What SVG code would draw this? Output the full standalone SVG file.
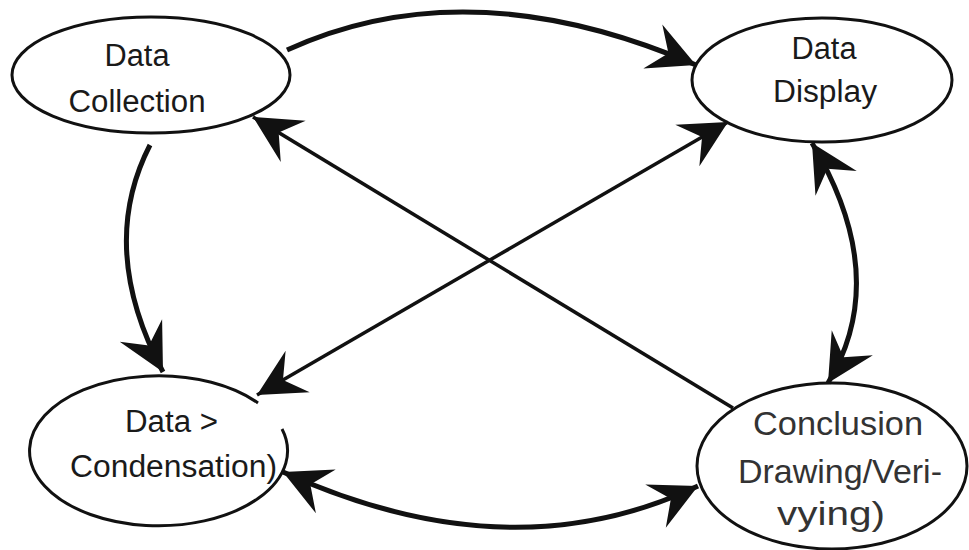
<svg xmlns="http://www.w3.org/2000/svg" width="969" height="550" viewBox="0 0 969 550">
<style>
.node{fill:#fff;stroke:#111;stroke-width:3}
.lbl{font-family:"Liberation Sans",Arial,sans-serif;font-size:31px;fill:#1a1a1a;text-anchor:middle}
.lbl2{font-family:"Liberation Sans",Arial,sans-serif;font-size:34px;fill:#333;text-anchor:middle}
.curve{fill:none;stroke:#111;stroke-width:5}
.straight{fill:none;stroke:#111;stroke-width:3.5}
</style>
<defs>
<marker id="ah" markerUnits="userSpaceOnUse" viewBox="-50 -26 52 52" markerWidth="52" markerHeight="52" refX="0" refY="0" orient="auto-start-reverse">
<path d="M0,0 L-47,-24 L-30,0 L-47,24 Z" fill="#111"/>
</marker>
</defs>
<rect width="969" height="550" fill="#fff"/>
<g id="nodes">
<g id="data-collection">
<ellipse class="node" cx="151" cy="75" rx="139" ry="58"/>
<text class="lbl" x="137" y="66" textLength="65" lengthAdjust="spacingAndGlyphs">Data</text>
<text class="lbl" x="137" y="112" textLength="137" lengthAdjust="spacingAndGlyphs">Collection</text>
</g>
<g id="data-display">
<ellipse class="node" cx="822" cy="80" rx="130" ry="62"/>
<text class="lbl" x="824" y="59" textLength="65" lengthAdjust="spacingAndGlyphs">Data</text>
<text class="lbl" x="825" y="102" textLength="104" lengthAdjust="spacingAndGlyphs">Display</text>
</g>
<g id="data-condensation">
<path class="node" d="M282,429 A129,75 0 1 1 258,403"/>
<text class="lbl" x="171.5" y="432" textLength="93" lengthAdjust="spacingAndGlyphs">Data &gt;</text>
<text class="lbl" x="173.5" y="477" textLength="207" lengthAdjust="spacingAndGlyphs">Condensation)</text>
</g>
<g id="conclusion">
<ellipse class="node" cx="832" cy="466" rx="135" ry="83"/>
<text class="lbl2" x="838" y="435" textLength="170" lengthAdjust="spacingAndGlyphs">Conclusion</text>
<text class="lbl2" x="840" y="483" textLength="204" lengthAdjust="spacingAndGlyphs">Drawing/Veri-</text>
<text class="lbl2" x="831" y="525" textLength="108" lengthAdjust="spacingAndGlyphs">vying)</text>
</g>
</g>
<g id="connectors">
<path class="curve" d="M287,50 Q468,-33 696,65" marker-end="url(#ah)"/>
<path class="curve" d="M150,145 Q97,248 163,372" marker-end="url(#ah)"/>
<path class="curve" d="M812,143 Q892,277 828,383" marker-start="url(#ah)" marker-end="url(#ah)"/>
<path class="curve" d="M283,472 Q510,575 698,486" marker-start="url(#ah)" marker-end="url(#ah)"/>
<path class="straight" d="M733,408 L253,117" marker-end="url(#ah)"/>
<path class="straight" d="M257,395 L728,122" marker-start="url(#ah)" marker-end="url(#ah)"/>
</g>
</svg>
